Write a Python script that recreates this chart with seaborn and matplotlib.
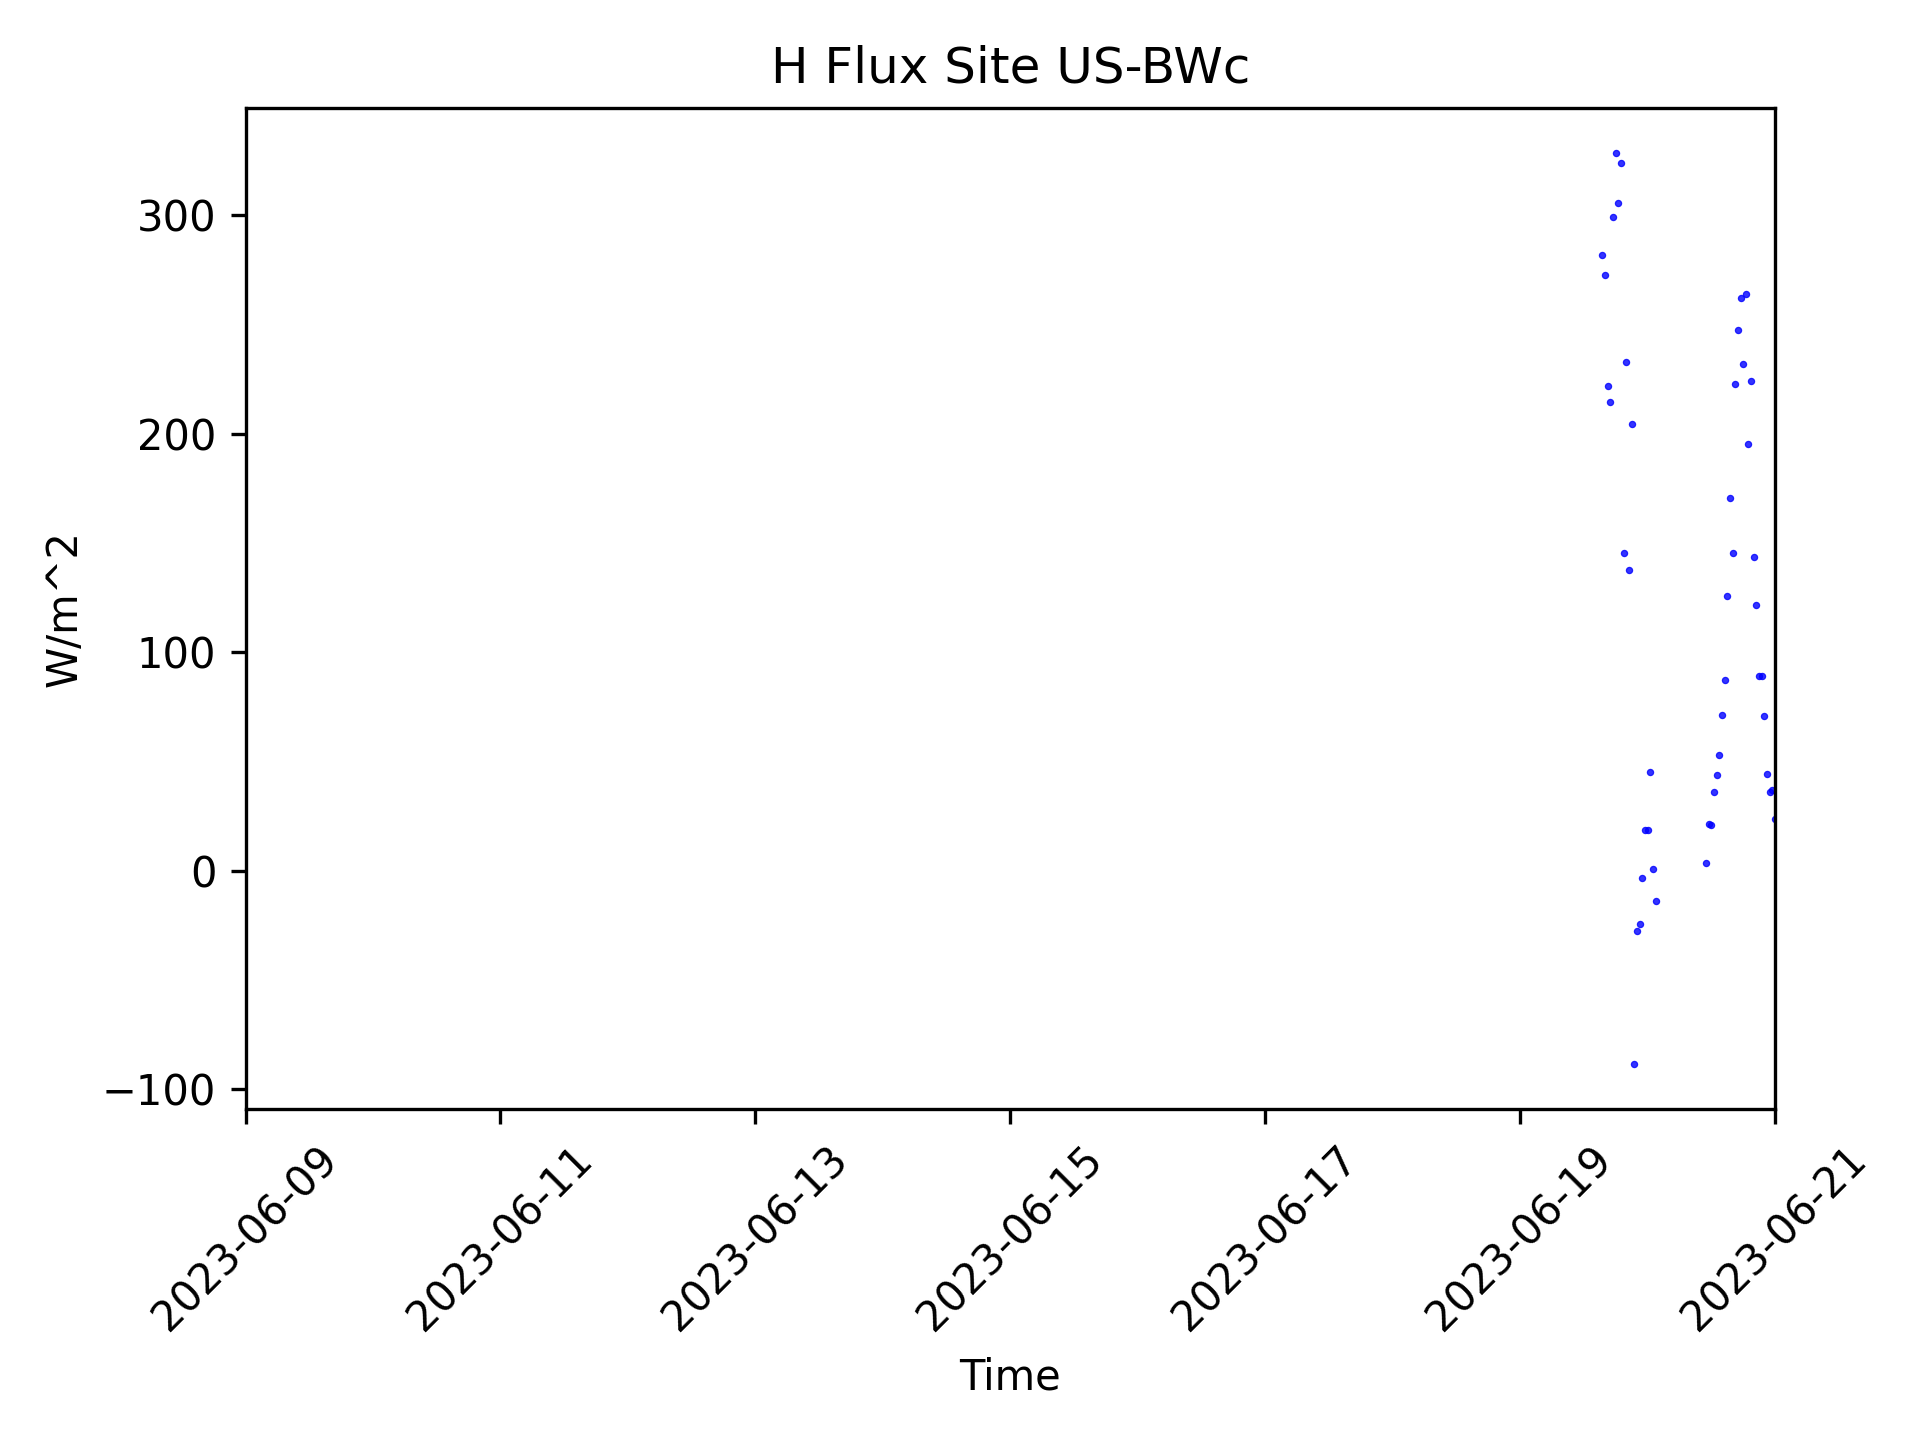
import matplotlib
matplotlib.use("Agg")
import matplotlib.pyplot as plt
import matplotlib.dates as mdates
import seaborn as sns
import pandas as pd
import numpy as np

# Half-hourly sensible heat flux observations (W/m^2)
times_day1 = pd.date_range("2023-06-19 15:30", "2023-06-20 01:30", freq="30min")
values_day1 = [282.0, 272.8, 222.0, 214.7, 299.4, 328.3, 305.8, 323.7, 145.5, 233.0,
               137.7, 204.6, -88.5, -27.6, -24.4, -3.3, 18.6, 18.6, 45.2, 0.8, -13.9]

times_day2 = pd.date_range("2023-06-20 11:00", "2023-06-21 00:00", freq="30min")
values_day2 = [3.5, 21.5, 20.9, 36.0, 43.8, 53.0, 71.3, 87.3, 125.8, 170.7,
               145.5, 222.9, 247.6, 262.3, 232.1, 263.7, 195.4, 224.3, 143.7, 121.7,
               89.2, 89.2, 70.9, 44.3, 36.0, 37.0, 23.7]

title = "H Flux Site US-BWc"
x_label = "Time"
y_label = "W/m^2"
x_start = "2023-06-09"
x_end = "2023-06-21"

df = pd.DataFrame({
    "Time": list(times_day1) + list(times_day2),
    "H": values_day1 + values_day2,
})

plt.rcParams["font.family"] = ["DejaVu Sans"]
fig, ax = plt.subplots(figsize=(6.4, 4.8), dpi=300)
sns.scatterplot(data=df, x="Time", y="H", ax=ax, color="blue", s=2.2,
                alpha=0.8, edgecolor="blue", linewidth=0.3, legend=False)

ax.set_xlim(pd.Timestamp(x_start), pd.Timestamp(x_end))
ax.xaxis.set_major_locator(mdates.DayLocator(interval=2))
ax.xaxis.set_major_formatter(mdates.DateFormatter("%Y-%m-%d"))
ax.set_title(title)
ax.set_xlabel(x_label)
ax.set_ylabel(y_label)
plt.setp(ax.get_xticklabels(), rotation=45)

fig.subplots_adjust(left=0.1279, right=0.9245, top=0.9251, bottom=0.2296)
fig.savefig("out.png", dpi=300)
